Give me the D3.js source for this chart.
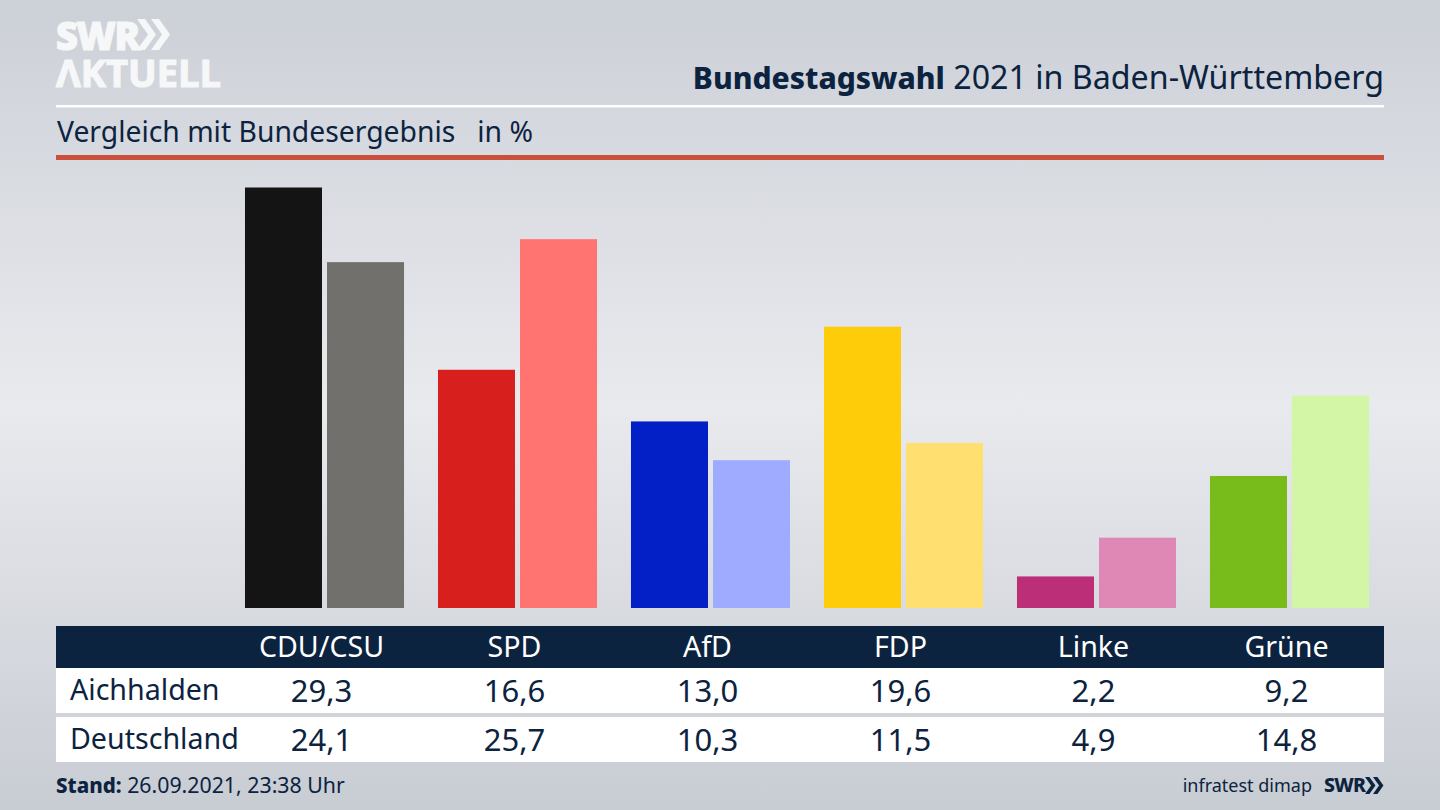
<!DOCTYPE html>
<html lang="de"><head><meta charset="utf-8">
<script src="https://cdn.jsdelivr.net/npm/d3@7/dist/d3.min.js"></script>
<style>html,body{margin:0;padding:0;background:#ccd0d7}svg{display:block}text{font-family:"Noto Sans",sans-serif;fill:#0c2340}</style>
</head><body><svg id="c" width="1440" height="810"></svg>
<script>
const categories=["CDU/CSU","SPD","AfD","FDP","Linke","Grüne"];
const seriesNames=["Aichhalden","Deutschland"];
const aichhalden=[29.3,16.6,13.0,19.6,2.2,9.2];
const deutschland=[24.1,25.7,10.3,11.5,4.9,14.8];
const colorsA=["#141414","#d71f1d","#0320c6","#ffcc0a","#bd2e78","#78bc1c"];
const colorsD=["#72706c","#ff7370","#9eabff","#ffdf70","#df88b6","#d2f5a6"];
const title=["Bundestagswahl"," 2021 in Baden-Württemberg"];
const subtitle="Vergleich mit Bundesergebnis   in %";
const stand=["Stand:"," 26.09.2021, 23:38 Uhr"];
const source="infratest dimap";
const values=[aichhalden,deutschland];
const colors=[colorsA,colorsD];
const navy="#0c2340";
const svg=d3.select("#c");
const defs=svg.append("defs");
const grad=defs.append("linearGradient").attr("id","bg").attr("x1",0).attr("x2",0).attr("y1",0).attr("y2",1);
[[0,"#ccd0d7"],[0.5,"#e9eaee"],[1,"#c8ccd3"]].forEach(s=>grad.append("stop").attr("offset",s[0]).attr("stop-color",s[1]));
svg.append("rect").attr("width",1440).attr("height",810).attr("fill","url(#bg)");

const x0=d3.scaleBand().domain(categories).range([228,1386]).paddingInner(0.176).paddingOuter(0.088);
const x1=d3.scaleBand().domain(seriesNames).range([0,x0.bandwidth()]).paddingInner(0.061);
const y=d3.scaleLinear().domain([0,29.3]).range([608,187.5]);

// logo
const chev="M0 0h8l11 15.5L8 31H0l11-15.5z";
const logo=svg.append("g");
logo.append("text").attr("x",56).attr("y",50).attr("font-size",38).attr("font-weight",800).attr("letter-spacing",-1.5).attr("stroke","#f6f7f8").attr("stroke-width",1.2).style("fill","#f6f7f8").style("font-family","'Open Sans'").text("SWR");
[137,151].forEach(px=>logo.append("path").attr("d",chev).attr("transform",`translate(${px},19)`).attr("fill","#f6f7f8"));
logo.append("text").attr("x",56).attr("y",87).attr("font-size",38).attr("font-weight",700).attr("stroke","#f6f7f8").attr("stroke-width",1.2).style("fill","#f6f7f8").style("font-family","'Open Sans'").text("ΛKTUELL");

// header
const t=svg.append("text").attr("x",1384).attr("y",89).attr("text-anchor","end");
t.append("tspan").attr("font-weight",800).attr("font-size",30).text(title[0]);
t.append("tspan").attr("font-size",32.2).text(title[1]);
svg.append("rect").attr("x",56).attr("y",105).attr("width",1328).attr("height",2.5).attr("fill","#fff");
svg.append("text").attr("x",57).attr("y",142).attr("font-size",28.3).attr("xml:space","preserve").style("white-space","pre").text(subtitle);
svg.append("rect").attr("x",56).attr("y",155).attr("width",1328).attr("height",5).attr("fill","#c9503c");

// bars
const groups=svg.append("g").selectAll("g").data(categories).join("g").attr("transform",d=>`translate(${x0(d)},0)`);
groups.selectAll("rect").data((d,i)=>seriesNames.map((s,j)=>({s,v:values[j][i],c:colors[j][i]}))).join("rect")
 .attr("x",d=>x1(d.s)).attr("width",x1.bandwidth()).attr("y",d=>y(d.v)).attr("height",d=>y(0)-y(d.v)).attr("fill",d=>d.c);

// table
const fmt=d3.formatLocale({decimal:",",thousands:".",grouping:[3],currency:["","€"]}).format(".1f");
const cx=c=>x0(c)+x0.bandwidth()/2-3;
svg.append("rect").attr("x",56).attr("y",626).attr("width",1328).attr("height",42).attr("fill",navy);
svg.append("g").selectAll("text").data(categories).join("text").attr("x",cx).attr("y",657).attr("text-anchor","middle").attr("font-size",28.6).style("fill","#fff").text(d=>d);
[[668,45,702],[717,45,751]].forEach(([top,h,base],j)=>{
 svg.append("rect").attr("x",56).attr("y",top).attr("width",1328).attr("height",h).attr("fill","#fff");
 svg.append("text").attr("x",70).attr("y",base-2).attr("font-size",28.6).text(seriesNames[j]);
 svg.append("g").selectAll("text").data(categories).join("text").attr("x",cx).attr("y",base).attr("text-anchor","middle").attr("font-size",31).text((d,i)=>fmt(values[j][i]));
});

// footer
const f=svg.append("text").attr("x",56).attr("y",793);
f.append("tspan").attr("font-weight",800).attr("font-size",20.5).text(stand[0]);
f.append("tspan").attr("font-size",21.3).text(stand[1]);
svg.append("text").attr("x",1312).attr("y",792).attr("text-anchor","end").attr("font-size",18).text(source);
svg.append("text").attr("x",1324).attr("y",792).attr("font-size",19.5).attr("font-weight",800).attr("letter-spacing",-0.8).text("SWR");
[1365,1373].forEach(px=>svg.append("path").attr("d",chev).attr("transform",`translate(${px},777) scale(0.55)`).attr("fill",navy));
</script></body></html>
